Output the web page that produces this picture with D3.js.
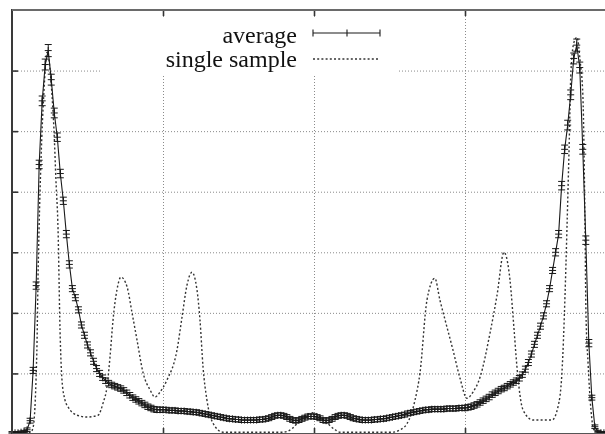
<!DOCTYPE html>
<html>
<head>
<meta charset="utf-8">
<script src="https://d3js.org/d3.v7.min.js"></script>
<style>
  body { margin: 0; background: #fff; }
  svg { filter: blur(0.35px); }
  .grid line { stroke: #8a8a8a; stroke-width: 1; stroke-dasharray: 1,2; }
  .grid path { display: none; }
  .ticks line { stroke: #333; stroke-width: 1.6; }
  .ticks path { display: none; }
  .avg-line { fill: none; stroke: #1a1a1a; stroke-width: 1.1; }
  .avg-bars { fill: none; stroke: #1a1a1a; stroke-width: 1; }
  .single-line { fill: none; stroke: #333; stroke-width: 1.4; stroke-dasharray: 2,2.2; }
  .key text { font-family: "Liberation Serif", "DejaVu Serif", serif; font-size: 24px; fill: #111; }
</style>
</head>
<body>
<div class="container"></div>
<script>
// grid positions (no tick labels visible in the crop)
var xGrid = [100, 200, 300];
var yGrid = [1, 2, 3, 4, 5, 6];

// average: one value every 2 x-units, from 0 to 400
var avgStep = 2;
var avgY = [
  0.02,0.02,0.02,0.03,0.04,0.07,0.22,1.05,2.45,4.45,
  5.5,6.1,6.33,5.85,5.3,4.9,4.3,3.85,3.3,2.8,
  2.4,2.25,2.05,1.8,1.63,1.47,1.34,1.2,1.08,1.0,
  0.93,0.88,0.84,0.81,0.79,0.77,0.75,0.72,0.68,0.64,
  0.6,0.57,0.54,0.51,0.48,0.45,0.43,0.41,0.4,0.4,
  0.4,0.4,0.39,0.39,0.39,0.38,0.38,0.38,0.37,0.37,
  0.36,0.36,0.35,0.34,0.33,0.32,0.31,0.3,0.29,0.28,
  0.27,0.26,0.25,0.25,0.24,0.24,0.23,0.23,0.23,0.23,
  0.23,0.23,0.24,0.24,0.25,0.26,0.28,0.3,0.31,0.31,
  0.3,0.28,0.25,0.23,0.22,0.23,0.25,0.27,0.29,0.29,
  0.29,0.28,0.26,0.23,0.22,0.23,0.25,0.28,0.3,0.31,
  0.31,0.3,0.28,0.26,0.25,0.24,0.23,0.23,0.23,0.23,
  0.24,0.24,0.25,0.25,0.26,0.27,0.28,0.29,0.3,0.31,
  0.32,0.34,0.35,0.36,0.37,0.38,0.39,0.4,0.4,0.41,
  0.41,0.41,0.41,0.41,0.42,0.42,0.42,0.42,0.43,0.43,
  0.43,0.44,0.45,0.47,0.49,0.52,0.55,0.58,0.61,0.65,
  0.68,0.71,0.74,0.76,0.79,0.82,0.85,0.88,0.92,0.98,
  1.07,1.18,1.32,1.48,1.63,1.78,1.95,2.15,2.4,2.7,
  3.0,3.3,4.1,4.7,5.1,5.6,6.2,6.42,6.05,4.7,
  3.2,1.5,0.6,0.12,0.04,0.02,0.02,0.02,0.02,0.02,
  0.02
];
var avgErr = [
  0.02,0.02,0.02,0.02,0.02,0.03,0.04,0.05,0.06,0.07,
  0.08,0.09,0.1,0.09,0.08,0.07,0.07,0.06,0.06,0.06,
  0.05,0.05,0.05,0.05,0.05,0.05,0.05,0.05,0.05,0.05,
  0.045,0.045,0.045,0.045,0.045,0.045,0.045,0.045,0.045,0.045,
  0.045,0.045,0.045,0.045,0.045,0.045,0.045,0.045,0.045,0.045,
  0.04,0.04,0.04,0.04,0.04,0.04,0.04,0.04,0.04,0.04,
  0.04,0.04,0.04,0.04,0.04,0.04,0.04,0.04,0.04,0.04,
  0.04,0.04,0.04,0.04,0.04,0.04,0.04,0.04,0.04,0.04,
  0.04,0.04,0.04,0.04,0.04,0.04,0.04,0.04,0.04,0.04,
  0.04,0.04,0.04,0.04,0.04,0.04,0.04,0.04,0.04,0.04,
  0.04,0.04,0.04,0.04,0.04,0.04,0.04,0.04,0.04,0.04,
  0.04,0.04,0.04,0.04,0.04,0.04,0.04,0.04,0.04,0.04,
  0.04,0.04,0.04,0.04,0.04,0.04,0.04,0.04,0.04,0.04,
  0.04,0.04,0.04,0.04,0.04,0.04,0.04,0.04,0.04,0.04,
  0.04,0.04,0.04,0.04,0.04,0.04,0.04,0.04,0.04,0.04,
  0.045,0.045,0.045,0.045,0.045,0.045,0.045,0.045,0.045,0.045,
  0.045,0.045,0.045,0.045,0.045,0.045,0.045,0.045,0.045,0.045,
  0.05,0.05,0.05,0.05,0.05,0.05,0.05,0.05,0.05,0.05,
  0.06,0.06,0.07,0.07,0.08,0.08,0.09,0.1,0.09,0.08,
  0.07,0.06,0.04,0.03,0.02,0.02,0.02,0.02,0.02,0.02,
  0.02
];

// single sample
var singleX = [0,10,12,13.9,15.9,16.6,17.2,17.9,19.2,21.2,23.2,24.5,26.5,27.8,29.1,30.5,31.8,33.1,35.1,37.1,
  43,49.7,57,60.3,62.9,64.9,66.9,69.5,72.2,76.2,79.5,82.8,86.8,91.4,94.7,98,102.6,109.3,112.6,115.9,
  119.2,122.5,124.5,126.5,129.1,133.1,139.7,179.5,186,190.7,199.3,208.6,214,217,252,257,261.6,266.9,270.2,274.8,
  280,283.4,288,292,296.7,301.3,305.3,310,316.6,321.2,325.8,329.8,332.5,334.4,338.4,345,357.6,361.6,364.2,366.2,
  367.5,368.9,370.2,372.2,374.2,376.2,378.1,379.5,380.1,381.5,383.4,385.4,389.4,400];
var singleY = [0.02,0.02,0.02,0.1,0.89,1.55,2.54,3.37,4.52,5.68,6.3,6.17,5.59,5.02,4.19,3.37,1.72,0.89,0.56,0.45,
  0.31,0.28,0.31,0.51,0.78,1.27,1.88,2.38,2.59,2.43,2.0,1.55,1.01,0.73,0.61,0.69,0.89,1.39,1.93,2.46,
  2.67,2.38,1.88,1.11,0.56,0.18,0.03,0.03,0.1,0.23,0.35,0.18,0.07,0.03,0.03,0.07,0.17,0.56,1.01,2.21,
  2.57,2.21,1.77,1.39,0.92,0.59,0.69,0.94,1.67,2.29,3.0,2.54,1.72,1.11,0.4,0.23,0.23,0.45,1.01,2.26,
  3.37,4.69,6.0,6.47,6.55,6.17,5.56,3.37,2.0,1.17,0.4,0.07,0.02,0.02];

var legendLabels = ["average", "single sample"];

function draw() {
  var margin = {top: 10, left: 12},
      width = 604,
      height = 424;

  var svg = d3.select(".container").append("svg")
    .attr("width", 605).attr("height", 434);

  var g = svg.append("g")
    .attr("transform", "translate(" + margin.left + "," + margin.top + ")");

  var x = d3.scaleLinear().domain([0, 400]).range([0, width]);
  var y = d3.scaleLinear().domain([0, 7]).range([height, 0]);

  // grid
  g.append("g").attr("class", "grid")
    .call(d3.axisLeft(y).tickValues(yGrid).tickSize(-width).tickFormat(""));
  g.append("g").attr("class", "grid")
    .call(d3.axisTop(x).tickValues(xGrid).tickSize(-height).tickFormat(""));

  // key area hides the grid
  g.append("rect").attr("x", 88).attr("y", 7).attr("width", 298).attr("height", 59)
    .attr("fill", "#fff");

  // single sample
  var singleData = singleX.map(function(d, i){ return [d, singleY[i]]; });
  g.append("path").attr("class", "single-line")
    .attr("d", d3.line().curve(d3.curveMonotoneX)
      .x(function(d){ return x(d[0]); })
      .y(function(d){ return y(d[1]); })(singleData));

  // average with error bars
  g.append("path").attr("class", "avg-line")
    .attr("d", d3.line()
      .x(function(d, i){ return x(i * avgStep); })
      .y(function(d){ return y(d); })(avgY));

  var cap = 3.5, bars = "";
  avgY.forEach(function(v, i){
    var px = x(i * avgStep), py = y(v),
        yt = y(v + avgErr[i]), yb = y(v - avgErr[i]);
    bars += "M" + px + "," + yt + "V" + yb
      + "M" + (px - cap) + "," + yt + "H" + (px + cap)
      + "M" + (px - cap) + "," + yb + "H" + (px + cap)
      + "M" + (px - cap) + "," + py + "H" + (px + cap)
      + "M" + px + "," + (py - cap) + "V" + (py + cap);
  });
  g.append("path").attr("class", "avg-bars").attr("d", bars);

  // ticks on the frame
  g.append("g").attr("class", "ticks")
    .call(d3.axisLeft(y).tickValues(yGrid).tickSize(-6).tickFormat(""));
  g.append("g").attr("class", "ticks")
    .call(d3.axisTop(x).tickValues(xGrid).tickSize(-6).tickFormat(""));
  g.append("g").attr("class", "ticks").attr("transform", "translate(0," + height + ")")
    .call(d3.axisBottom(x).tickValues(xGrid).tickSize(-6).tickFormat(""));

  // frame
  g.append("line").attr("x1", 0).attr("x2", 0).attr("y1", -1).attr("y2", height)
    .attr("stroke", "#3a3a3a").attr("stroke-width", 2);
  g.append("line").attr("x1", 0).attr("x2", width).attr("y1", 0).attr("y2", 0)
    .attr("stroke", "#6a6a6a").attr("stroke-width", 2);
  g.append("line").attr("x1", 0).attr("x2", width).attr("y1", height).attr("y2", height)
    .attr("stroke", "#555").attr("stroke-width", 2);

  // key
  var key = svg.append("g").attr("class", "key");
  key.append("text").attr("x", 297).attr("y", 43).attr("text-anchor", "end").text(legendLabels[0]);
  key.append("text").attr("x", 297).attr("y", 67).attr("text-anchor", "end").text(legendLabels[1]);
  key.append("path").attr("class", "avg-line")
    .attr("d", "M313,33H380M313,29.5V36.5M380,29.5V36.5M343.5,33H350.5M347,29.5V36.5");
  key.append("path").attr("class", "single-line").attr("d", "M313,59H380");
}
draw();
</script>
</body>
</html>
